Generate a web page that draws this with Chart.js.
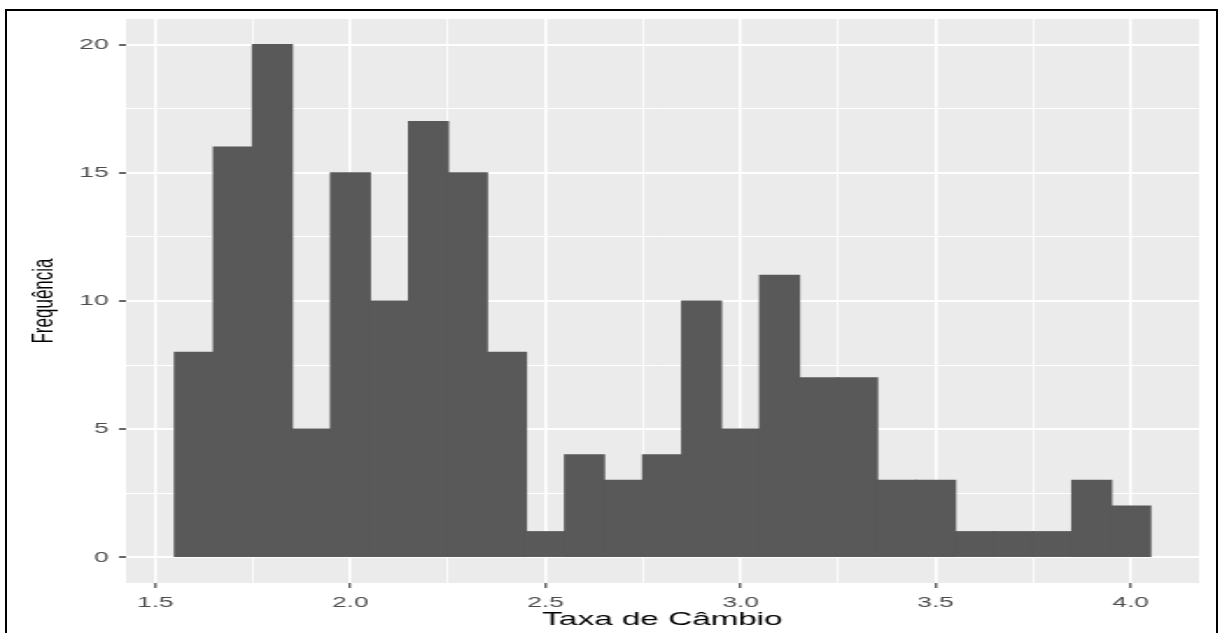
<!DOCTYPE html>
<html>
<head>
<meta charset="utf-8">
<script src="https://cdn.jsdelivr.net/npm/chart.js@4/dist/chart.umd.min.js"></script>
<style>
  html, body { margin: 0; padding: 0; background: #fff; overflow: hidden; }
  body { width: 1220px; height: 633px; position: relative; }
  #caption {
    position: absolute; left: 10px; top: -25.5px; white-space: nowrap;
    font-family: "Liberation Serif", serif; font-size: 24px; line-height: 24px; color: #000;
  }
  #frame {
    position: absolute; left: 5px; top: 9px; width: 1213px; height: 700px;
    box-sizing: border-box; border: 2px solid #000; border-bottom: none;
  }
  #myChart { position: absolute; left: 0; top: 0; transform-origin: 0 0; }
</style>
</head>
<body>
<div id="caption">Figura 2 – Histograma para a taxa de câmbio</div>
<div id="frame"></div>
<canvas id="myChart" width="697" height="633"></canvas>
<script>
// histogram bins (width 0.1), centres and counts
const binCenters = [1.6, 1.7, 1.8, 1.9, 2.0, 2.1, 2.2, 2.3, 2.4, 2.5, 2.6, 2.7, 2.8,
                    2.9, 3.0, 3.1, 3.2, 3.3, 3.4, 3.5, 3.6, 3.7, 3.8, 3.9, 4.0];
const counts = [8, 16, 20, 5, 15, 10, 17, 15, 8, 1, 4, 3, 4,
                10, 5, 11, 7, 7, 3, 3, 1, 1, 1, 3, 2];

const xMajor = [1.5, 2.0, 2.5, 3.0, 3.5, 4.0];
const xMinor = [1.75, 2.25, 2.75, 3.25, 3.75];
const yMajor = [0, 5, 10, 15, 20];
const yMinor = [2.5, 7.5, 12.5, 17.5];

// the source image is stretched sideways, so the canvas is too
const W = 697;
const S = 1220 / W;
const canvas = document.getElementById("myChart");
canvas.style.transform = "scaleX(" + S + ")";

const isMajor = (list, v) => list.some((m) => Math.abs(m - v) < 1e-9);

const panelBg = {
  id: "panelBg",
  beforeDraw(chart) {
    const { ctx, chartArea: a } = chart;
    ctx.save();
    ctx.fillStyle = "#ebebeb";
    ctx.fillRect(a.left, a.top, a.right - a.left, a.bottom - a.top);
    ctx.restore();
  },
};

new Chart(canvas.getContext("2d"), {
  type: "bar",
  data: {
    datasets: [
      {
        label: "Frequência",
        data: binCenters.map((c, i) => ({ x: c, y: counts[i] })),
        backgroundColor: "#595959",
        borderWidth: 0,
        inflateAmount: 0.6,
        barPercentage: 1,
        categoryPercentage: 1,
      },
    ],
  },
  plugins: [panelBg],
  options: {
    responsive: false,
    devicePixelRatio: 1,
    animation: false,
    layout: { padding: { top: 19, right: 12, left: 0, bottom: 0 } },
    plugins: { legend: { display: false }, tooltip: { enabled: false } },
    scales: {
      x: {
        type: "linear",
        offset: false,
        min: 1.425,
        max: 4.175,
        afterBuildTicks(scale) {
          scale.ticks = xMajor.concat(xMinor).sort((a, b) => a - b).map((v) => ({ value: v }));
        },
        afterFit(scale) { scale.height = 50; },
        border: { display: false },
        grid: {
          offset: false,
          color: "#ffffff",
          lineWidth: (c) => (isMajor(xMajor, c.tick.value) ? 1.6 : 0.8),
          drawTicks: true,
          tickLength: 5,
          tickWidth: 1.1,
          tickColor: (c) => (isMajor(xMajor, c.tick.value) ? "#333333" : "rgba(0,0,0,0)"),
        },
        ticks: {
          autoSkip: false,
          maxRotation: 0,
          padding: 6,
          color: "#4d4d4d",
          font: { family: "Liberation Sans", size: 15 },
          callback: (v) => (isMajor(xMajor, v) ? Number(v).toFixed(1) : ""),
        },
        title: {
          display: true,
          text: "Taxa de Câmbio",
          color: "#000000",
          font: { family: "Liberation Sans", size: 19 },
          padding: { top: 0, bottom: 2 },
        },
      },
      y: {
        min: -1,
        max: 21,
        afterBuildTicks(scale) {
          scale.ticks = yMajor.concat(yMinor).sort((a, b) => a - b).map((v) => ({ value: v }));
        },
        afterFit(scale) { scale.width = 72; },
        border: { display: false },
        grid: {
          color: "#ffffff",
          lineWidth: (c) => (isMajor(yMajor, c.tick.value) ? 2 : 1),
          drawTicks: true,
          tickLength: 4,
          tickWidth: 1.5,
          tickColor: (c) => (isMajor(yMajor, c.tick.value) ? "#333333" : "rgba(0,0,0,0)"),
        },
        ticks: {
          autoSkip: false,
          padding: 6,
          color: "#4d4d4d",
          font: { family: "Liberation Sans", size: 15 },
          callback: (v) => (isMajor(yMajor, v) ? String(v) : ""),
        },
        title: {
          display: true,
          text: "Frequência",
          color: "#000000",
          font: { family: "Liberation Sans", size: 17 },
          padding: { top: 15, bottom: 0 },
        },
      },
    },
  },
});
</script>
</body>
</html>
